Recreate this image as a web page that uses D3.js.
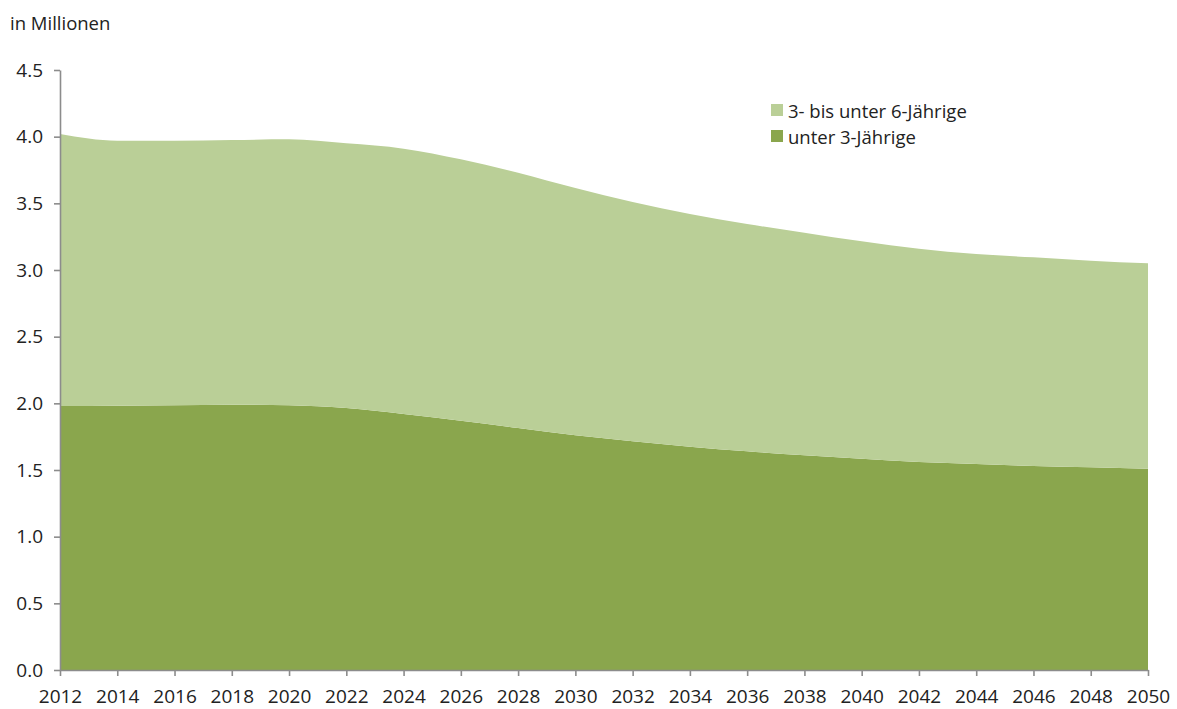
<!DOCTYPE html>
<html>
<head>
<meta charset="utf-8">
<script src="https://cdn.jsdelivr.net/npm/d3@7"></script>
<style>
  body { margin: 0; background: #fff; }
  svg text { font-family: "Open Sans", sans-serif; fill: #222; }
</style>
</head>
<body>
<svg id="chart" width="1177" height="709"></svg>
<script>
// years (2-year steps)
const years = [2012, 2014, 2016, 2018, 2020, 2022, 2024, 2026, 2028, 2030,
               2032, 2034, 2036, 2038, 2040, 2042, 2044, 2046, 2048, 2050];
// unter 3-Jährige (millions)
const under3 = [1.98, 1.982, 1.985, 1.99, 1.985, 1.965, 1.92, 1.87, 1.815, 1.76,
                1.715, 1.675, 1.64, 1.61, 1.585, 1.56, 1.545, 1.53, 1.52, 1.51];
// 3- bis unter 6-Jährige (millions)
const age3to6 = [2.04, 1.988, 1.985, 1.985, 1.995, 1.985, 1.99, 1.96, 1.915, 1.855,
                 1.795, 1.745, 1.705, 1.67, 1.63, 1.60, 1.575, 1.565, 1.55, 1.54];
const yTicks = [0, 0.5, 1, 1.5, 2, 2.5, 3, 3.5, 4, 4.5];
const seriesNames = ["unter 3-Jährige", "3- bis unter 6-Jährige"];
const colors = ["#8aa64d", "#bacf97"];

const data = years.map((yr, i) => ({ year: yr, a: under3[i], b: age3to6[i] }));

const svg = d3.select("#chart");
const margin = { top: 70, right: 29, bottom: 39, left: 60 };
const width = 1177 - margin.left - margin.right;
const height = 709 - margin.top - margin.bottom;

const x = d3.scaleLinear().domain([2012, 2050]).range([0, width]);
const y = d3.scaleLinear().domain([0, 4.5]).range([height, 0]);

const g = svg.append("g").attr("transform", `translate(${margin.left},${margin.top})`);

const stack = d3.stack().keys(["a", "b"]);
const layers = stack(data);

const area = d3.area()
    .x(d => x(d.data.year))
    .y0(d => y(d[0]))
    .y1(d => y(d[1]))
    .curve(d3.curveMonotoneX);

g.selectAll(".layer")
  .data(layers)
  .enter().append("path")
    .attr("class", "layer")
    .attr("fill", (d, i) => colors[i])
    .attr("d", area);

// axes
const xAxis = g.append("g")
    .attr("class", "x axis")
    .attr("transform", `translate(0,${height})`)
    .call(d3.axisBottom(x).tickValues(years).tickFormat(d3.format("d")).tickSize(6).tickSizeOuter(0));

const yAxis = g.append("g")
    .attr("class", "y axis")
    .call(d3.axisLeft(y).tickValues(yTicks).tickFormat(d3.format(".1f")).tickSize(6).tickSizeOuter(0));

g.selectAll(".axis path, .axis line")
    .attr("stroke", "#8c8c8c")
    .attr("stroke-width", 1.6);
g.selectAll(".x.axis text")
    .attr("dy", "1.25em")
    .style("font-size", "19px");
g.selectAll(".y.axis text")
    .attr("x", -17)
    .style("font-size", "19px");
g.selectAll(".axis text").style("fill", "#222").style("font-family", "'Open Sans', sans-serif");

// unit label
svg.append("text")
    .attr("x", 10)
    .attr("y", 30)
    .style("font-size", "18.5px")
    .text("in Millionen");

// legend (upper series first)
const legend = svg.append("g").attr("transform", "translate(771,104)");
const legendItems = [1, 0];
legendItems.forEach((k, i) => {
  const row = legend.append("g").attr("transform", `translate(0,${i * 26})`);
  row.append("rect").attr("width", 12).attr("height", 12).attr("fill", colors[k]);
  row.append("text").attr("x", 17).attr("y", 12).attr("dy", "0.1em")
     .style("font-size", "18.5px").text(seriesNames[k]);
});
</script>
</body>
</html>
